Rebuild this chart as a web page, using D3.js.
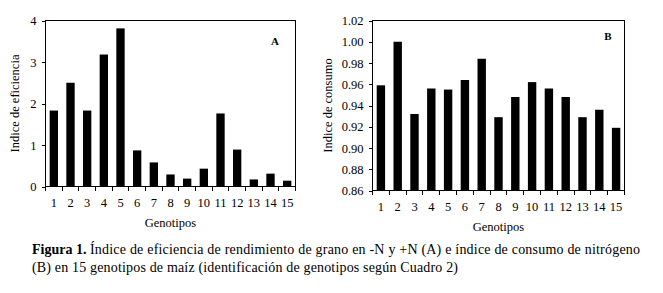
<!DOCTYPE html>
<html>
<head>
<meta charset="utf-8">
<script src="https://cdn.jsdelivr.net/npm/d3@7"></script>
<style>
  body { margin: 0; background: #fff; }
</style>
</head>
<body>
<div id="chart"></div>
<script>
// data
var genotipos   = ["1","2","3","4","5","6","7","8","9","10","11","12","13","14","15"];
var eficiencia  = [1.83, 2.50, 1.83, 3.18, 3.81, 0.87, 0.58, 0.29, 0.19, 0.43, 1.76, 0.89, 0.17, 0.31, 0.14];
var consumo     = [0.959, 1.000, 0.932, 0.956, 0.955, 0.964, 0.984, 0.929, 0.948, 0.962, 0.956, 0.948, 0.929, 0.936, 0.919];
var ticks_a     = [0, 1, 2, 3, 4];
var ticks_b     = [0.86, 0.88, 0.90, 0.92, 0.94, 0.96, 0.98, 1.00, 1.02];

var chart_width  = 663;
var chart_height = 293;
var serif        = "'Liberation Serif'";

var svg = d3.select("#chart")
	.append("svg")
	.attr("width", chart_width)
	.attr("height", chart_height);

// draws one panel
function panel(opts) {
	var g = svg.append("g");

	var x_scale = d3.scaleBand()
		.domain(genotipos)
		.range([opts.left, opts.right])
		.paddingInner(0.5)
		.paddingOuter(0.25);

	var y_scale = d3.scaleLinear()
		.domain(opts.domain)
		.range([opts.bottom, opts.top]);

	// bars
	g.selectAll("rect.bar")
		.data(opts.values)
		.enter()
		.append("rect")
		.attr("class", "bar")
		.attr("x", (d, i) => x_scale(genotipos[i]))
		.attr("width", x_scale.bandwidth())
		.attr("y", (d) => y_scale(d))
		.attr("height", (d) => opts.bottom - y_scale(d))
		.attr("fill", "#000");

	// frame
	g.append("rect")
		.attr("x", opts.left)
		.attr("y", opts.top)
		.attr("width", opts.right - opts.left)
		.attr("height", opts.bottom - opts.top)
		.attr("fill", "none")
		.attr("stroke", "#000")
		.attr("stroke-width", 1)
		.attr("shape-rendering", "crispEdges");

	// y axis
	var y_axis = d3.axisLeft(y_scale)
		.tickValues(opts.ticks)
		.tickSize(4)
		.tickPadding(5)
		.tickFormat(opts.format);
	var ya = g.append("g")
		.attr("transform", "translate(" + opts.left + ",0)")
		.call(y_axis);
	ya.select(".domain").remove();
	ya.selectAll("line").attr("shape-rendering", "crispEdges");
	ya.selectAll("text")
		.style("font-family", serif)
		.style("font-size", "12.5px");

	// x ticks at band boundaries
	var step = x_scale.step();
	var bounds = genotipos.map((d) => x_scale(d) - step * 0.25);
	bounds.push(opts.right);
	g.selectAll("line.xt")
		.data(bounds)
		.enter()
		.append("line")
		.attr("x1", (d) => d)
		.attr("x2", (d) => d)
		.attr("y1", opts.bottom)
		.attr("y2", opts.bottom + 4)
		.attr("stroke", "#000")
		.attr("shape-rendering", "crispEdges");

	g.selectAll("text.xl")
		.data(genotipos)
		.enter()
		.append("text")
		.attr("x", (d) => x_scale(d) + x_scale.bandwidth() / 2)
		.attr("y", opts.bottom + 20)
		.attr("text-anchor", "middle")
		.style("font-family", serif)
		.style("font-size", "12.5px")
		.text((d) => d);

	// axis titles
	g.append("text")
		.attr("x", (opts.left + opts.right) / 2)
		.attr("y", opts.bottom + 40)
		.attr("text-anchor", "middle")
		.style("font-family", serif)
		.style("font-size", "12.5px")
		.text("Genotipos");

	g.append("text")
		.attr("transform", "translate(" + opts.ylabel_x + "," + ((opts.top + opts.bottom) / 2) + ") rotate(-90)")
		.attr("text-anchor", "middle")
		.style("font-family", serif)
		.style("font-size", "12.5px")
		.text(opts.ylabel);

	// panel letter
	g.append("text")
		.attr("x", opts.letter[0])
		.attr("y", opts.letter[1])
		.attr("text-anchor", "middle")
		.style("font-family", serif)
		.style("font-size", "11px")
		.style("font-weight", "bold")
		.text(opts.name);
}

panel({
	values: eficiencia, domain: [0, 4], ticks: ticks_a, format: d3.format("d"),
	left: 45.5, right: 295.5, top: 20.5, bottom: 186.5,
	ylabel: "Indice de eficiencia", ylabel_x: 19, name: "A", letter: [275, 45]
});

panel({
	values: consumo, domain: [0.86, 1.02], ticks: ticks_b, format: d3.format(".2f"),
	left: 372.5, right: 624.5, top: 20.5, bottom: 190.5,
	ylabel: "Indice de consumo", ylabel_x: 332, name: "B", letter: [608, 40]
});

// caption
svg.append("text")
	.attr("x", 32)
	.attr("y", 254)
	.style("font-family", serif)
	.style("font-size", "14px")
	.style("font-weight", "bold")
	.text("Figura 1.");

svg.append("text")
	.attr("x", 90)
	.attr("y", 254)
	.attr("textLength", 550)
	.attr("lengthAdjust", "spacing")
	.style("font-family", serif)
	.style("font-size", "14px")
	.text("Índice de eficiencia de rendimiento de grano en -N y +N (A) e índice de consumo de nitrógeno");

svg.append("text")
	.attr("x", 32)
	.attr("y", 272)
	.attr("textLength", 426)
	.attr("lengthAdjust", "spacing")
	.style("font-family", serif)
	.style("font-size", "14px")
	.text("(B) en 15 genotipos de maíz (identificación de genotipos según Cuadro 2)");
</script>
</body>
</html>
